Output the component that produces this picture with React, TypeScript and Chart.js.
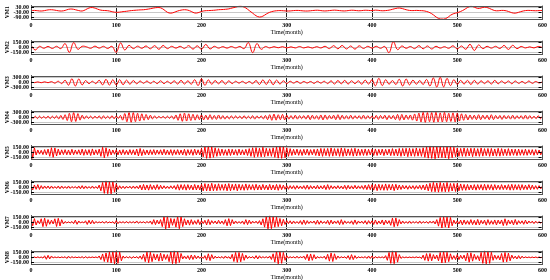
import React, { useEffect, useRef } from "react";
import { Chart, registerables } from "chart.js";

Chart.register(...registerables);

// ---------- data ----------
const MONTH_TICKS = [0, 100, 200, 300, 400, 500, 600];
const X_TITLE = "Time(month)";

// VM1: one value every 4 months
const VM1_STEP = 4;
const VM1 = [
  -10, -8, -12, -15, -10, -2, 0, -5, -12, -15,
  -8, 5, 8, 0, -10, -15, 0, 20, 25, 15,
  0, -8, -10, -15, -25, -30, -28, -22, -18, -12,
  -8, -5, -2, 0, 5, 12, 20, 25, 22, 0,
  -30, -40, -30, -15, -5, 0, -5, -20, -38, -35,
  -20, -12, -10, -8, -5, 0, 2, 5, 10, 20,
  30, 40, 38, 20, -10, -40, -70, -85, -75, -50,
  -30, -18, -12, -10, -12, -15, -14, -10, -8, -10,
  -14, -15, -12, -8, -6, -10, -14, -12, -8, -5,
  -8, -12, -14, -10, -6, -8, -12, -10, -6, -8,
  -10, -5, -8, -12, -10, -5, 5, 15, 20, 12,
  0, -8, -10, -8, -10, -12, -20, -35, -60, -90,
  -108, -110, -95, -65, -45, -35, -20, 0, 25, 40,
  30, 15, 20, 30, 22, 5, -10, -12, -8, -10,
  -20, -35, -40, -30, -18, -10, -8, -10, -12, -10,
  -8,
];
const VM1_TICKS = [30, -30, -90];

// VM2: one extreme every 5 months
const VM2_STEP = 5;
const VM2 = [
  60, -80, 30, -30, 25, -35, 30, -40, 110, -150,
  140, -60, 30, 15, -30, 35, -25, 30, -35, 30,
  -150, 130, -80, 60, -40, 35, -30, 40, -45, 50,
  -60, 55, -40, 30, -25, 30, -35, 50, -55, 45,
  -60, 85, -50, 30, -25, 20, -25, 25, -20, 25,
  -40, 140, -160, 110, -60, 25, -20, 20, -15, 20,
  -20, 15, -20, 25, -20, 15, -25, 20, -20, 30,
  -40, 50, -45, 55, -50, 40, -55, 45, -35, 30,
  -25, 30, -30, 25, -160, 165, -70, 40, -30, 25,
  -40, 50, -45, 40, -50, 30, -25, 20, -30, 45,
  -50, 40, -60, 90, -95, 70, -40, 30, -25, 30,
  -35, 55, -65, 60, -40, 25, -20, 15, -20, 25,
  -10,
];
const VM2_TICKS = [150, 0, -150];

// VM3: one extreme every 4 months
const VM3_STEP = 4;
const VM3 = [
  15, -20, 25, -25, 30, -25, 40, -50, 65, -80,
  120, -170, 210, -220, 195, -155, 105, -80, 65, -80,
  120, -155, 180, -170, 155, -170, 155, -145, 130, -115,
  105, -90, 80, -65, 80, -70, 65, -80, 90, -80,
  65, -80, 90, -105, 115, -105, 90, -115, 155, -195,
  210, -180, 145, -115, 105, -90, 105, -115, 90, -80,
  65, -50, 60, -65, 50, -80, 105, -130, 145, -130,
  155, -145, 130, -105, 90, -80, 65, -50, 60, -65,
  50, -45, 50, -65, 60, -50, 65, -80, 90, -105,
  105, -90, 115, -105, 90, -80, 90, -115, 130, -105,
  155, -210, 235, -195, 155, -115, 105, -130, 180, -220,
  195, -155, 130, -115, 105, -130, 170, -220, 260, -285,
  300, -275, 235, -195, 155, -130, 115, -105, 115, -130,
  115, -105, 90, -80, 90, -105, 115, -90, 80, -65,
  80, -90, 80, -65, 50, -65, 80, -65, 50, -40,
  25,
];
const VM3_TICKS = [300, 0, -300];

// VM4: one extreme every 2.5 months
const VM4_STEP = 2.5;
const VM4 = [
  55, -70, 65, -75, 70, -65, 55, -70, 75, -85, 70, -65, 85, -100, 110, -125,
  155, -195, 240, -265, 280, -250, 225, -170, 125, -100, 85, -70, 75, -85, 70, -65,
  85, -100, 90, -75, 70, -85, 100, -90, 85, -70, 110, -170, 225, -265, 280, -295,
  280, -265, 240, -225, 210, -180, 170, -140, 125, -100, 85, -70, 65, -55, 65, -70,
  70, -65, 85, -110, 140, -180, 210, -240, 250, -225, 210, -195, 180, -170, 155, -140,
  140, -155, 125, -140, 155, -125, 110, -125, 140, -110, 100, -110, 85, -100, 90, -85,
  85, -70, 75, -90, 100, -85, 70, -85, 100, -110, 85, -70, 85, -100, 110, -140,
  155, -180, 195, -170, 155, -140, 170, -155, 125, -110, 100, -110, 125, -110, 100, -85,
  100, -110, 125, -140, 125, -110, 100, -125, 140, -155, 140, -125, 110, -100, 125, -140,
  155, -140, 125, -110, 100, -110, 125, -110, 100, -85, 100, -110, 125, -110, 100, -85,
  85, -100, 110, -125, 110, -100, 125, -140, 110, -100, 110, -140, 170, -180, 170, -155,
  140, -125, 140, -170, 195, -225, 250, -280, 295, -300, 280, -265, 280, -295, 300, -280,
  265, -280, 295, -265, 240, -250, 265, -280, 250, -225, 210, -180, 170, -155, 140, -125,
  125, -140, 155, -140, 125, -110, 125, -140, 155, -140, 110, -100, 110, -125, 110, -100,
  100, -110, 125, -110, 100, -85, 100, -110, 125, -110, 100, -85, 70, -85, 100, -85,
  70,
];
const VM4_TICKS = [300, 0, -300];

// VM5..VM8: one extreme every 2 months
const HF_STEP = 2;
const VM5 = [
  190, -180, 135, -80, 70, -55, 60, -70, 80, -75, 95, -120, 135, -150, 130, -110, 95, -80, 75, -70,
  80, -75, 70, -80, 90, -75, 70, -60, 75, -80, 95, -90, 80, -75, 80, -95, 100, -80, 75, -70,
  95, -120, 150, -165, 135, -120, 95, -80, 70, -60, 75, -80, 70, -75, 80, -70, 60, -75, 80, -70,
  75, -80, 95, -110, 115, -100, 80, -75, 70, -80, 75, -70, 80, -75, 70, -60, 75, -80, 90, -75,
  70, -75, 80, -90, 75, -70, 80, -75, 70, -80, 90, -95, 80, -75, 80, -90, 95, -80, 75, -80,
  110, -135, 160, -180, 190, -175, 160, -150, 135, -120, 110, -100, 95, -90, 80, -95, 100, -95, 90, -80,
  80, -90, 95, -80, 75, -80, 90, -95, 110, -120, 135, -150, 140, -130, 120, -135, 150, -135, 120, -115,
  110, -120, 135, -150, 160, -175, 190, -180, 175, -160, 135, -120, 110, -95, 90, -80, 95, -90, 80, -95,
  90, -80, 95, -90, 80, -75, 90, -95, 100, -110, 115, -120, 110, -100, 115, -120, 130, -115, 110, -100,
  110, -120, 130, -120, 115, -110, 100, -95, 110, -115, 120, -110, 100, -95, 90, -95, 100, -95, 90, -80,
  90, -95, 100, -95, 90, -80, 95, -100, 90, -80, 95, -100, 110, -100, 95, -110, 115, -120, 115, -110,
  120, -130, 120, -115, 110, -120, 130, -115, 110, -120, 135, -150, 160, -175, 190, -180, 175, -190, 180, -170,
  175, -160, 150, -170, 180, -190, 175, -160, 150, -135, 130, -120, 115, -120, 130, -120, 115, -110, 120, -130,
  120, -115, 110, -120, 130, -115, 110, -100, 115, -120, 115, -110, 100, -115, 120, -115, 110, -100, 95, -100,
  110, -100, 95, -90, 95, -100, 95, -90, 80, -90, 95, -90, 80, -75, 80, -90, 80, -75, 70, -75,
  55,
];
const VM6 = [
  65, -80, 70, -60, 80, -65, 50, -45, 40, -35, 40, -45, 40, -35, 25, -35, 40, -45, 40, -35,
  25, -35, 40, -35, 25, -20, 25, -35, 40, -45, 50, -45, 40, -35, 25, -35, 40, -35, 25, -40,
  65, -105, 145, -180, 195, -190, 170, -195, 180, -145, 105, -65, 45, -40, 35, -40, 35, -25, 35, -40,
  40, -35, 40, -45, 65, -80, 85, -80, 70, -85, 80, -65, 60, -70, 80, -65, 60, -50, 45, -40,
  35, -40, 45, -40, 50, -65, 80, -85, 80, -70, 80, -85, 80, -70, 65, -80, 85, -80, 70, -80,
  90, -105, 110, -105, 100, -110, 120, -105, 90, -100, 105, -90, 85, -90, 100, -105, 110, -105, 90, -85,
  100, -105, 90, -85, 80, -90, 100, -85, 80, -70, 80, -85, 90, -80, 70, -80, 85, -70, 65, -80,
  85, -80, 70, -80, 85, -90, 80, -70, 65, -60, 50, -60, 50, -45, 50, -60, 50, -45, 40, -45,
  50, -60, 65, -60, 50, -45, 40, -50, 60, -50, 45, -50, 60, -70, 80, -65, 50, -45, 40, -45,
  50, -45, 40, -50, 60, -65, 60, -50, 45, -50, 60, -50, 45, -40, 50, -60, 65, -70, 80, -70,
  80, -85, 90, -100, 90, -85, 80, -90, 100, -90, 85, -80, 90, -100, 90, -80, 70, -65, 60, -50,
  50, -60, 50, -45, 50, -60, 50, -45, 60, -65, 70, -80, 90, -105, 120, -130, 145, -135, 130, -145,
  145, -130, 125, -135, 145, -130, 115, -110, 115, -125, 115, -105, 100, -90, 85, -90, 85, -80, 70, -80,
  80, -85, 80, -70, 80, -85, 90, -85, 80, -70, 80, -85, 80, -70, 65, -70, 80, -70, 65, -70,
  80, -85, 90, -85, 80, -70, 80, -85, 80, -70, 65, -70, 80, -70, 65, -60, 50, -60, 50, -45,
  40,
];
const VM7 = [
  120, -105, 110, -80, 50, -45, 105, -130, 125, -120, 80, -60, 65, -50, 105, -125, 120, -110, 80, -50,
  25, -20, 15, -20, 25, -40, 65, -60, 40, -20, 15, -20, 45, -65, 60, -50, 60, -45, 25, -15,
  12, -15, 25, -30, 30, -20, 12, -15, 20, -45, 50, -40, 20, -15, 20, -25, 30, -25, 20, -15,
  20, -25, 40, -30, 20, -15, 20, -25, 25, -20, 40, -60, 80, -70, 65, -50, 80, -130, 180, -195,
  190, -170, 115, -90, 105, -145, 180, -190, 170, -130, 105, -80, 70, -85, 80, -65, 50, -60, 80, -70,
  50, -40, 60, -80, 85, -70, 50, -35, 40, -50, 60, -45, 40, -60, 80, -105, 110, -100, 80, -50,
  40, -35, 25, -35, 40, -60, 80, -70, 65, -45, 35, -25, 35, -40, 50, -80, 105, -145, 180, -195,
  195, -190, 170, -145, 155, -130, 115, -105, 90, -65, 50, -40, 45, -50, 40, -35, 25, -40, 50, -65,
  70, -65, 50, -40, 35, -25, 40, -60, 65, -60, 45, -35, 25, -40, 60, -70, 65, -50, 40, -35,
  50, -70, 80, -65, 45, -35, 25, -35, 45, -65, 70, -60, 40, -25, 35, -40, 50, -60, 50, -40,
  45, -65, 70, -60, 40, -50, 70, -80, 65, -45, 50, -90, 125, -135, 130, -115, 80, -50, 40, -35,
  25, -35, 40, -35, 25, -20, 25, -35, 40, -35, 25, -20, 25, -35, 35, -25, 40, -50, 80, -115,
  145, -170, 165, -145, 155, -170, 145, -105, 65, -50, 45, -50, 65, -80, 70, -60, 50, -65, 80, -70,
  60, -80, 85, -80, 60, -45, 65, -85, 80, -65, 50, -60, 70, -80, 65, -50, 70, -100, 105, -90,
  70, -50, 60, -80, 85, -70, 50, -40, 45, -60, 65, -50, 40, -25, 35, -40, 35, -25, 20, -25,
  20,
];
const VM8 = [
  10, -12, 10, -12, 15, -12, 10, -25, 45, -60, 60, -50, 40, -20, 12, -10, 12, -15, 12, -10,
  20, -35, 35, -25, 20, -12, 10, -12, 10, -12, 20, -25, 25, -20, 12, -10, 12, -10, 12, -15,
  40, -70, 100, -125, 130, -145, 155, -170, 190, -195, 190, -180, 155, -105, 40, -25, 25, -20, 25, -35,
  25, -20, 25, -35, 40, -60, 90, -130, 155, -160, 150, -130, 105, -80, 90, -115, 125, -110, 90, -65,
  80, -130, 170, -190, 195, -190, 180, -155, 115, -50, 40, -45, 50, -70, 70, -65, 60, -45, 40, -35,
  25, -35, 50, -85, 105, -100, 80, -50, 35, -20, 15, -20, 25, -35, 40, -25, 20, -50, 90, -125,
  145, -150, 145, -135, 115, -90, 65, -40, 25, -20, 25, -40, 50, -50, 45, -25, 20, -15, 20, -25,
  40, -65, 105, -145, 180, -195, 190, -180, 145, -90, 50, -25, 20, -15, 20, -25, 35, -25, 20, -15,
  40, -65, 90, -105, 100, -90, 80, -50, 25, -20, 15, -20, 35, -60, 90, -115, 130, -125, 105, -65,
  40, -25, 20, -15, 20, -35, 50, -70, 80, -70, 50, -35, 20, -15, 12, -15, 25, -35, 40, -35,
  40, -35, 25, -20, 15, -12, 15, -25, 50, -90, 145, -180, 195, -190, 180, -145, 80, -35, 15, -12,
  10, -12, 10, -12, 10, -12, 15, -12, 12, -40, 65, -90, 110, -115, 115, -105, 80, -50, 65, -105,
  145, -170, 175, -160, 150, -130, 105, -65, 50, -70, 80, -70, 60, -45, 65, -105, 130, -145, 135, -115,
  90, -65, 50, -105, 145, -180, 195, -195, 190, -180, 150, -90, 65, -60, 50, -80, 115, -145, 145, -135,
  125, -105, 65, -40, 35, -50, 50, -45, 35, -20, 15, -12, 10, -12, 10, -12, 10, -12, 10, -12,
  10,
];
const HF_TICKS = [150, 0, -150];

// ---------- panels ----------
type Panel = {
  label: string;
  values: number[];
  step: number;
  ticks: number[];
  min: number;
  max: number;
  tension: number;
};

const PANELS: Panel[] = [
  { label: "VM1", values: VM1, step: VM1_STEP, ticks: VM1_TICKS, min: -108, max: 48, tension: 0.4 },
  { label: "VM2", values: VM2, step: VM2_STEP, ticks: VM2_TICKS, min: -200, max: 200, tension: 0.4 },
  { label: "VM3", values: VM3, step: VM3_STEP, ticks: VM3_TICKS, min: -400, max: 400, tension: 0.4 },
  { label: "VM4", values: VM4, step: VM4_STEP, ticks: VM4_TICKS, min: -400, max: 400, tension: 0.3 },
  { label: "VM5", values: VM5, step: HF_STEP, ticks: HF_TICKS, min: -200, max: 200, tension: 0 },
  { label: "VM6", values: VM6, step: HF_STEP, ticks: HF_TICKS, min: -200, max: 200, tension: 0 },
  { label: "VM7", values: VM7, step: HF_STEP, ticks: HF_TICKS, min: -200, max: 200, tension: 0 },
  { label: "VM8", values: VM8, step: HF_STEP, ticks: HF_TICKS, min: -200, max: 200, tension: 0 },
];

const W = 550;
const H = 36;
const GAP = 35;
const FONT = "'Liberation Serif', 'Times New Roman', serif";

const boxPlugin = {
  id: "box",
  afterDraw(chart: any) {
    const { ctx, chartArea } = chart;
    const { left, right, top, bottom } = chartArea;
    ctx.save();
    ctx.strokeStyle = "#555";
    ctx.lineWidth = 1;
    ctx.strokeRect(Math.round(left) + 0.5, Math.round(top) + 0.5, Math.round(right - left) - 1, Math.round(bottom - top));
    const y = chart.scales.y;
    ctx.strokeStyle = "#000";
    ctx.beginPath();
    for (const t of y.ticks) {
      const py = Math.round(y.getPixelForValue(t.value)) + 0.5;
      ctx.moveTo(left, py);
      ctx.lineTo(left + 3, py);
      ctx.moveTo(right - 1, py);
      ctx.lineTo(right - 4, py);
    }
    ctx.stroke();
    ctx.restore();
  },
};

function PanelChart({ panel, index }: { panel: Panel; index: number }) {
  const ref = useRef<HTMLCanvasElement | null>(null);
  useEffect(() => {
    if (!ref.current) return;
    const chart = new Chart(ref.current, {
      type: "line",
      data: {
        datasets: [
          {
            data: panel.values.map((v, i) => ({ x: i * panel.step, y: v })),
            borderColor: "#ff0000",
            borderWidth: 1,
            pointRadius: 0,
            fill: false,
            tension: panel.tension,
          },
        ],
      },
      options: {
        animation: false,
        responsive: false,
        events: [],
        layout: { padding: { top: 3, left: 4, right: 7, bottom: 0 } },
        plugins: { legend: { display: false }, tooltip: { enabled: false } },
        scales: {
          x: {
            type: "linear",
            min: 0,
            max: 600,
            afterBuildTicks: (s: any) => {
              s.ticks = MONTH_TICKS.map((v) => ({ value: v }));
            },
            afterFit: (s: any) => {
              s.height = H - 3 - 16;
            },
            grid: {
              drawTicks: false,
              lineWidth: 1,
              color: (c: any) =>
                c.tick && (c.tick.value === 0 || c.tick.value === 600) ? "#555" : "#222",
            },
            border: { display: true, color: "#555" },
            ticks: {
              autoSkip: false,
              maxRotation: 0,
              padding: 3,
              color: "#000",
              font: { family: FONT, size: 6, weight: "bold" },
              callback: (v: any) => String(v),
            },
            title: {
              display: true,
              text: X_TITLE,
              color: "#000",
              padding: 0,
              font: { family: FONT, size: 6 },
            },
          },
          y: {
            min: panel.min,
            max: panel.max,
            afterBuildTicks: (s: any) => {
              s.ticks = panel.ticks.map((v) => ({ value: v }));
            },
            afterFit: (s: any) => {
              s.width = 27;
            },
            grid: { drawTicks: false, color: "#c8c8c8", lineWidth: 1 },
            border: { display: true, color: "#555" },
            ticks: {
              autoSkip: false,
              padding: 2,
              color: "#000",
              font: { family: FONT, size: 6, weight: "bold" },
              callback: (v: any) => Number(v).toFixed(2),
            },
            title: {
              display: true,
              text: panel.label,
              color: "#000",
              padding: 0,
              font: { family: FONT, size: 5.5, weight: "bold" },
            },
          },
        },
      } as any,
      plugins: [boxPlugin],
    });
    return () => chart.destroy();
  }, [panel]);
  return (
    <canvas
      ref={ref}
      width={W}
      height={H}
      style={{ position: "absolute", left: 0, top: index * GAP, width: W, height: H }}
    />
  );
}

export default function App() {
  return (
    <div style={{ position: "absolute", left: 0, top: 0, width: W, height: 280, background: "#fff" }}>
      {PANELS.map((p, i) => (
        <PanelChart key={p.label} panel={p} index={i} />
      ))}
    </div>
  );
}
